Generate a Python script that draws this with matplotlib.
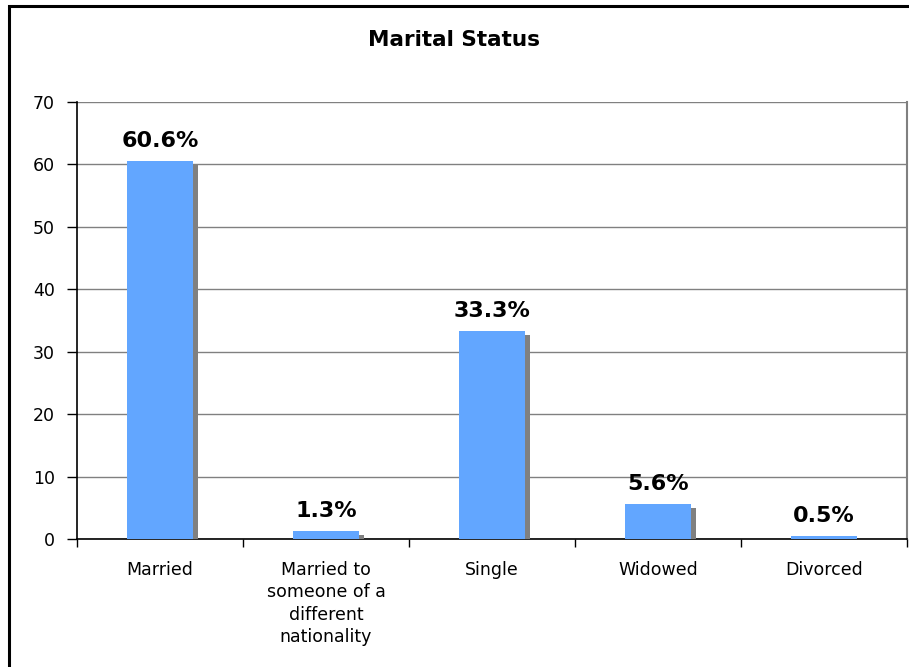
import matplotlib
matplotlib.use("Agg")
import matplotlib.pyplot as plt
import matplotlib.patheffects as pe
from matplotlib.patches import Rectangle

categories = ["Married", "Married to\nsomeone of a\ndifferent\nnationality",
              "Single", "Widowed", "Divorced"]
values = [60.6, 1.3, 33.3, 5.6, 0.5]
value_labels = ["60.6%", "1.3%", "33.3%", "5.6%", "0.5%"]
y_ticks = [0, 10, 20, 30, 40, 50, 60, 70]

plt.rcParams["font.family"] = "DejaVu Sans"

fig = plt.figure(figsize=(9.09, 6.67), dpi=100)
ax = fig.add_axes([77 / 909, 1 - 539 / 667, 830 / 909, 437 / 667])

x = list(range(len(categories)))
shadow = pe.SimplePatchShadow(offset=(3.6, -2.8), shadow_rgbFace="#808080", alpha=1.0)
ax.bar(x, values, width=0.4, color="#62A6FF", zorder=3,
       path_effects=[shadow, pe.Normal()])

for xi, v, lab in zip(x, values, value_labels):
    ax.annotate(lab, (xi, v), xytext=(0, 10), textcoords="offset points",
                ha="center", va="baseline", fontsize=16, fontweight="bold",
                zorder=4)

ax.set_xlim(-0.5, len(categories) - 0.5)
ax.set_ylim(0, 70)
ax.set_yticks(y_ticks)
ax.set_xticks(x)
ax.set_xticklabels(categories, fontsize=12.5, linespacing=1.3)
ax.set_xticks([i - 0.5 for i in range(len(categories) + 1)], minor=True)
ax.tick_params(axis="x", which="major", length=0, pad=16)
ax.tick_params(axis="x", which="minor", length=6, width=1, color="black")
ax.tick_params(axis="y", labelsize=12.5, length=7, width=1, pad=9)

ax.yaxis.grid(True, color="#808080", linewidth=1.0)
ax.set_axisbelow(True)

ax.spines["top"].set_visible(False)
ax.spines["right"].set_color("#808080")
ax.spines["right"].set_linewidth(1.5)
ax.spines["left"].set_linewidth(1.2)
ax.spines["bottom"].set_linewidth(1.2)

fig.text(0.5, 1 - 40 / 667, "Marital Status", ha="center", va="center",
         fontsize=15.5, fontweight="bold")

fig.add_artist(Rectangle((9 / 909, -0.2), 1.5, 1.2 - 5.5 / 667,
                         transform=fig.transFigure, fill=False,
                         edgecolor="black", linewidth=2.2))

fig.savefig("out.png", dpi=100)
